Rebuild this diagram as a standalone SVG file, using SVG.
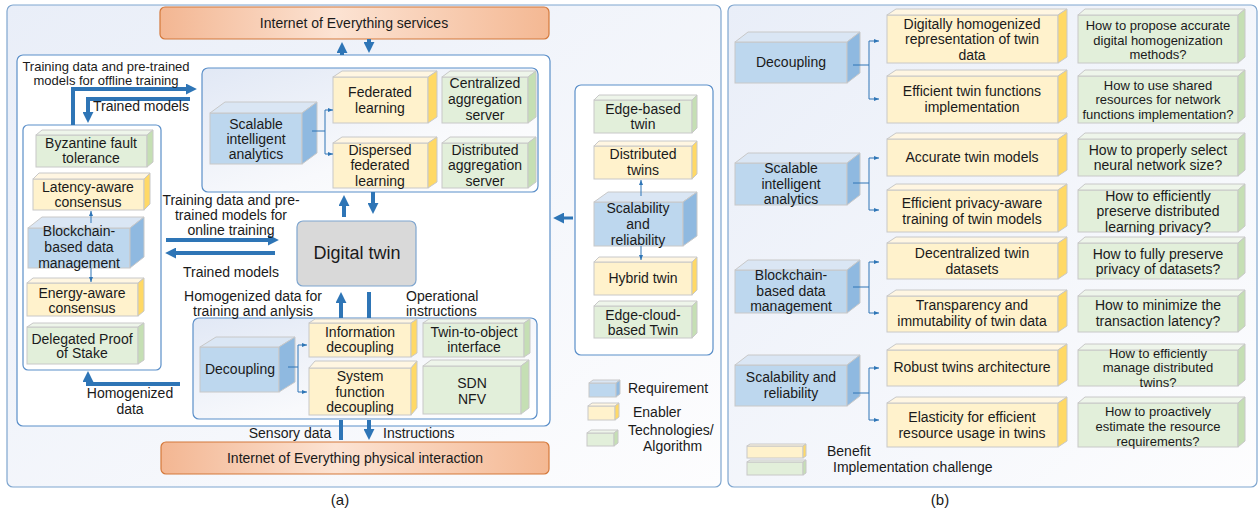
<svg xmlns="http://www.w3.org/2000/svg" width="1260" height="512" viewBox="0 0 1260 512">
<defs>
<style>
text{font-family:"Liberation Sans",Arial,sans-serif;font-size:14px;fill:#1a1a1a;text-anchor:middle}
.s{font-size:13px}
.st{text-anchor:start}
.cb .f{fill:#bdd7ee}.cb .t{fill:#dae6f4}.cb .r{fill:#8fb9e0}
.cy .f{fill:#fff2cc}.cy .t{fill:#fff6e2}.cy .r{fill:#ffd966}
.cg .f{fill:#e2efda}.cg .t{fill:#eef5ea}.cg .r{fill:#c5dfb4}
.f,.t,.r{stroke:#c8c8c8;stroke-width:1}
.pan{stroke:#7fa6cf;stroke-width:1.2}
.con{stroke:#5b8fc9;stroke-width:1.2}
.org{fill:url(#og);stroke:#d4783a;stroke-width:1.2}
.ta{fill:none;stroke:#2e75b6;stroke-width:4}
.th{fill:none;stroke:#2e75b6;stroke-width:1}
</style>
<linearGradient id="pg" x1="0" y1="0" x2="1" y2="1"><stop offset="0" stop-color="#e9eef8"/><stop offset="1" stop-color="#fdfdfe"/></linearGradient>
<linearGradient id="cgr" x1="0" y1="0" x2="1" y2="1"><stop offset="0" stop-color="#e1e8f5"/><stop offset="0.6" stop-color="#f8f9fc"/><stop offset="1" stop-color="#ffffff"/></linearGradient>
<linearGradient id="og" x1="0" y1="0" x2="1" y2="0"><stop offset="0" stop-color="#f3b692"/><stop offset="0.45" stop-color="#fce3d3"/><stop offset="1" stop-color="#f4b893"/></linearGradient>
<marker id="ah" viewBox="0 0 10 10" refX="1" refY="5" markerWidth="11" markerHeight="11" markerUnits="userSpaceOnUse" orient="auto"><path d="M0,0 L10,5 L0,10 Z" fill="#2e75b6"/></marker>
<marker id="sa" viewBox="0 0 10 8" refX="10" refY="4" markerWidth="5" markerHeight="4" markerUnits="userSpaceOnUse" orient="auto"><path d="M0,0 L10,4 L0,8 Z" fill="#2e75b6"/></marker>
</defs>
<rect width="1260" height="512" fill="#ffffff"/>

<!-- containers -->
<g id="panel-a"><rect class="pan" x="7" y="5" width="714" height="482" rx="6" fill="url(#pg)"/></g>
<g id="panel-b"><rect class="pan" x="728" y="5" width="529" height="482" rx="6" fill="url(#pg)"/></g>
<g id="inner-a"><rect class="con" x="17" y="55" width="533" height="371" rx="6" fill="#ffffff"/></g>
<g id="blockchain-container"><rect class="con" x="23" y="125" width="138" height="245" rx="5" fill="#ffffff"/></g>
<g id="sia-container"><rect class="con" x="202" y="68" width="336" height="124" rx="6" fill="url(#cgr)"/></g>
<g id="decoupling-container"><rect class="con" x="193" y="318" width="344" height="101" rx="6" fill="url(#cgr)"/></g>
<g id="scalability-container"><rect class="con" x="575" y="85" width="138" height="270" rx="6" fill="#ffffff"/></g>

<g id="ioe-services"><rect class="org" x="160" y="7" width="389" height="32" rx="5"/><text x="354" y="28">Internet of Everything services</text></g>
<g id="ioe-physical"><rect class="org" x="161" y="442" width="388" height="32" rx="5"/><text x="355" y="463">Internet of Everything physical interaction</text></g>

<g id="digital-twin"><rect x="297" y="221" width="119" height="65" rx="6" fill="#d9d9d9" stroke="#7fa6cf" stroke-width="1.2"/><text x="357" y="259" style="font-size:18px">Digital twin</text></g>

<!-- panel a nodes -->
<g id="sia-a" class="cb"><rect class="f" x="210" y="113" width="92" height="51"/><path class="t" d="M210,113 L225,102 L317,102 L302,113 Z"/><path class="r" d="M302,113 L317,102 L317,153 L302,164 Z"/><text x="256" y="129">Scalable</text><text x="256" y="144">intelligent</text><text x="256" y="159">analytics</text></g>
<g id="federated" class="cy"><rect class="f" x="333" y="77" width="95" height="46"/><path class="t" d="M333,77 L342,71 L437,71 L428,77 Z"/><path class="r" d="M428,77 L437,71 L437,117 L428,123 Z"/><text x="380" y="97">Federated</text><text x="380" y="113">learning</text></g>
<g id="dispersed" class="cy"><rect class="f" x="333" y="143" width="95" height="45"/><path class="t" d="M333,143 L342,137 L437,137 L428,143 Z"/><path class="r" d="M428,143 L437,137 L437,182 L428,188 Z"/><text x="380" y="155">Dispersed</text><text x="380" y="170">federated</text><text x="380" y="186">learning</text></g>
<g id="centralized" class="cg"><rect class="f" x="442" y="77" width="86" height="46"/><path class="t" d="M442,77 L450,71 L536,71 L528,77 Z"/><path class="r" d="M528,77 L536,71 L536,117 L528,123 Z"/><text x="485" y="88">Centralized</text><text x="485" y="104">aggregation</text><text x="485" y="120">server</text></g>
<g id="distributed-agg" class="cg"><rect class="f" x="442" y="143" width="86" height="45"/><path class="t" d="M442,143 L450,137 L536,137 L528,143 Z"/><path class="r" d="M528,143 L536,137 L536,182 L528,188 Z"/><text x="485" y="155">Distributed</text><text x="485" y="170">aggregation</text><text x="485" y="186">server</text></g>

<g id="byzantine" class="cg"><rect class="f" x="36" y="135" width="111" height="32"/><path class="t" d="M36,135 L42,130 L153,130 L147,135 Z"/><path class="r" d="M147,135 L153,130 L153,162 L147,167 Z"/><text x="91" y="148">Byzantine fault</text><text x="91" y="163">tolerance</text></g>
<g id="latency" class="cy"><rect class="f" x="33" y="179" width="111" height="31"/><path class="t" d="M33,179 L39,173 L150,173 L144,179 Z"/><path class="r" d="M144,179 L150,173 L150,204 L144,210 Z"/><text x="88" y="192">Latency-aware</text><text x="88" y="207">consensus</text></g>
<g id="blockchain-a" class="cb"><rect class="f" x="28" y="228" width="102" height="40"/><path class="t" d="M28,228 L42,217 L144,217 L130,228 Z"/><path class="r" d="M130,228 L144,217 L144,257 L130,268 Z"/><text x="79" y="236">Blockchain-</text><text x="79" y="252">based data</text><text x="79" y="268">management</text></g>
<g id="energy" class="cy"><rect class="f" x="27" y="283" width="111" height="33"/><path class="t" d="M27,283 L33,278 L144,278 L138,283 Z"/><path class="r" d="M138,283 L144,278 L144,311 L138,316 Z"/><text x="82" y="298">Energy-aware</text><text x="82" y="313">consensus</text></g>
<g id="delegated" class="cg"><rect class="f" x="27" y="327" width="111" height="37"/><path class="t" d="M27,327 L33,323 L144,323 L138,327 Z"/><path class="r" d="M138,327 L144,323 L144,360 L138,364 Z"/><text x="82" y="344">Delegated Proof</text><text x="82" y="358">of Stake</text></g>

<g id="decoupling-a" class="cb"><rect class="f" x="200" y="347" width="79" height="45"/><path class="t" d="M200,347 L216,337 L295,337 L279,347 Z"/><path class="r" d="M279,347 L295,337 L295,382 L279,392 Z"/><text x="240" y="374">Decoupling</text></g>
<g id="information" class="cy"><rect class="f" x="309" y="323" width="102" height="34"/><path class="t" d="M309,323 L315,319 L417,319 L411,323 Z"/><path class="r" d="M411,323 L417,319 L417,353 L411,357 Z"/><text x="360" y="337">Information</text><text x="360" y="352">decoupling</text></g>
<g id="system-function" class="cy"><rect class="f" x="309" y="368" width="102" height="47"/><path class="t" d="M309,368 L315,361 L417,361 L411,368 Z"/><path class="r" d="M411,368 L417,361 L417,408 L411,415 Z"/><text x="360" y="381">System</text><text x="360" y="397">function</text><text x="360" y="412">decoupling</text></g>
<g id="twin-to-object" class="cg"><rect class="f" x="423" y="323" width="101" height="34"/><path class="t" d="M423,323 L429,319 L530,319 L524,323 Z"/><path class="r" d="M524,323 L530,319 L530,353 L524,357 Z"/><text x="474" y="337">Twin-to-object</text><text x="474" y="352">interface</text></g>
<g id="sdn-nfv" class="cg"><rect class="f" x="423" y="366" width="98" height="48"/><path class="t" d="M423,366 L431,360 L529,360 L521,366 Z"/><path class="r" d="M521,366 L529,360 L529,408 L521,414 Z"/><text x="472" y="388">SDN</text><text x="472" y="404">NFV</text></g>

<g id="edge-based" class="cg"><rect class="f" x="594" y="100" width="98" height="33"/><path class="t" d="M594,100 L599,95 L697,95 L692,100 Z"/><path class="r" d="M692,100 L697,95 L697,128 L692,133 Z"/><text x="643" y="114">Edge-based</text><text x="643" y="129">twin</text></g>
<g id="distributed-twins" class="cy"><rect class="f" x="594" y="146" width="98" height="33"/><path class="t" d="M594,146 L599,141 L697,141 L692,146 Z"/><path class="r" d="M692,146 L697,141 L697,174 L692,179 Z"/><text x="643" y="159">Distributed</text><text x="643" y="175">twins</text></g>
<g id="scalability-a" class="cb"><rect class="f" x="594" y="202" width="89" height="44"/><path class="t" d="M594,202 L608,192 L697,192 L683,202 Z"/><path class="r" d="M683,202 L697,192 L697,236 L683,246 Z"/><text x="638" y="213">Scalability</text><text x="638" y="229">and</text><text x="638" y="245">reliability</text></g>
<g id="hybrid" class="cy"><rect class="f" x="594" y="262" width="98" height="33"/><path class="t" d="M594,262 L599,257 L697,257 L692,262 Z"/><path class="r" d="M692,262 L697,257 L697,290 L692,295 Z"/><text x="643" y="283">Hybrid twin</text></g>
<g id="edge-cloud" class="cg"><rect class="f" x="594" y="306" width="98" height="32"/><path class="t" d="M594,306 L599,301 L697,301 L692,306 Z"/><path class="r" d="M692,306 L697,301 L697,333 L692,338 Z"/><text x="643" y="320">Edge-cloud-</text><text x="643" y="335">based Twin</text></g>

<g id="legend-a">
<g class="cb"><rect class="f" x="589" y="383" width="27" height="14"/><path class="t" d="M589,383 L593,380 L620,380 L616,383 Z"/><path class="r" d="M616,383 L620,380 L620,394 L616,397 Z"/></g>
<g class="cy"><rect class="f" x="588" y="406" width="27" height="14"/><path class="t" d="M588,406 L592,403 L619,403 L615,406 Z"/><path class="r" d="M615,406 L619,403 L619,417 L615,420 Z"/></g>
<g class="cg"><rect class="f" x="587" y="433" width="27" height="13"/><path class="t" d="M587,433 L591,430 L618,430 L614,433 Z"/><path class="r" d="M614,433 L618,430 L618,443 L614,446 Z"/></g>
<text class="st" x="628" y="393">Requirement</text>
<text class="st" x="633" y="417">Enabler</text>
<text class="st" x="628" y="435">Technologies/</text>
<text class="st" x="643" y="451">Algorithm</text>
</g>

<!-- panel b nodes -->
<g id="decoupling-b" class="cb"><rect class="f" x="735" y="42" width="112" height="41"/><path class="t" d="M735,42 L748,32 L860,32 L847,42 Z"/><path class="r" d="M847,42 L860,32 L860,73 L847,83 Z"/><text x="791" y="67">Decoupling</text></g>
<g id="sia-b" class="cb"><rect class="f" x="735" y="163" width="112" height="42"/><path class="t" d="M735,163 L748,153 L860,153 L847,163 Z"/><path class="r" d="M847,163 L860,153 L860,195 L847,205 Z"/><text x="791" y="173">Scalable</text><text x="791" y="189">intelligent</text><text x="791" y="204">analytics</text></g>
<g id="blockchain-b" class="cb"><rect class="f" x="735" y="270" width="112" height="43"/><path class="t" d="M735,270 L748,260 L860,260 L847,270 Z"/><path class="r" d="M847,270 L860,260 L860,303 L847,313 Z"/><text x="791" y="280">Blockchain-</text><text x="791" y="296">based data</text><text x="791" y="311">management</text></g>
<g id="scalability-b" class="cb"><rect class="f" x="735" y="365" width="112" height="41"/><path class="t" d="M735,365 L748,355 L860,355 L847,365 Z"/><path class="r" d="M847,365 L860,355 L860,396 L847,406 Z"/><text x="791" y="382">Scalability and</text><text x="791" y="398">reliability</text></g>

<g id="benefit-1" class="cy"><rect class="f" x="887" y="15" width="171" height="48"/><path class="t" d="M887,15 L896,9 L1067,9 L1058,15 Z"/><path class="r" d="M1058,15 L1067,9 L1067,57 L1058,63 Z"/><text x="972" y="29">Digitally homogenized</text><text x="972" y="44">representation of twin</text><text x="972" y="60">data</text></g>
<g id="benefit-2" class="cy"><rect class="f" x="887" y="76" width="171" height="47"/><path class="t" d="M887,76 L896,70 L1067,70 L1058,76 Z"/><path class="r" d="M1058,76 L1067,70 L1067,117 L1058,123 Z"/><text x="972" y="96">Efficient twin functions</text><text x="972" y="112">implementation</text></g>
<g id="benefit-3" class="cy"><rect class="f" x="887" y="139" width="171" height="37"/><path class="t" d="M887,139 L896,133 L1067,133 L1058,139 Z"/><path class="r" d="M1058,139 L1067,133 L1067,170 L1058,176 Z"/><text x="972" y="162">Accurate twin models</text></g>
<g id="benefit-4" class="cy"><rect class="f" x="887" y="190" width="171" height="42"/><path class="t" d="M887,190 L896,184 L1067,184 L1058,190 Z"/><path class="r" d="M1058,190 L1067,184 L1067,226 L1058,232 Z"/><text x="972" y="208">Efficient privacy-aware</text><text x="972" y="224">training of twin models</text></g>
<g id="benefit-5" class="cy"><rect class="f" x="887" y="243" width="171" height="36"/><path class="t" d="M887,243 L896,237 L1067,237 L1058,243 Z"/><path class="r" d="M1058,243 L1067,237 L1067,273 L1058,279 Z"/><text x="972" y="258">Decentralized twin</text><text x="972" y="274">datasets</text></g>
<g id="benefit-6" class="cy"><rect class="f" x="887" y="296" width="171" height="36"/><path class="t" d="M887,296 L896,290 L1067,290 L1058,296 Z"/><path class="r" d="M1058,296 L1067,290 L1067,326 L1058,332 Z"/><text x="972" y="310">Transparency and</text><text x="972" y="326">immutability of twin data</text></g>
<g id="benefit-7" class="cy"><rect class="f" x="887" y="350" width="171" height="36"/><path class="t" d="M887,350 L896,344 L1067,344 L1058,350 Z"/><path class="r" d="M1058,350 L1067,344 L1067,380 L1058,386 Z"/><text x="972" y="372">Robust twins architecture</text></g>
<g id="benefit-8" class="cy"><rect class="f" x="887" y="403" width="171" height="44"/><path class="t" d="M887,403 L896,397 L1067,397 L1058,403 Z"/><path class="r" d="M1058,403 L1067,397 L1067,441 L1058,447 Z"/><text x="972" y="422">Elasticity for efficient</text><text x="972" y="438">resource usage in twins</text></g>

<g id="challenge-1" class="cg"><rect class="f" x="1078" y="15" width="160" height="48"/><path class="t" d="M1078,15 L1085,9 L1245,9 L1238,15 Z"/><path class="r" d="M1238,15 L1245,9 L1245,57 L1238,63 Z"/><text class="s" x="1158" y="30">How to propose accurate</text><text class="s" x="1158" y="45">digital homogenization</text><text class="s" x="1158" y="59">methods?</text></g>
<g id="challenge-2" class="cg"><rect class="f" x="1078" y="76" width="160" height="47"/><path class="t" d="M1078,76 L1085,70 L1245,70 L1238,76 Z"/><path class="r" d="M1238,76 L1245,70 L1245,117 L1238,123 Z"/><text class="s" x="1158" y="90">How to use shared</text><text class="s" x="1158" y="104">resources for network</text><text class="s" x="1158" y="119">functions implementation?</text></g>
<g id="challenge-3" class="cg"><rect class="f" x="1078" y="139" width="160" height="37"/><path class="t" d="M1078,139 L1085,133 L1245,133 L1238,139 Z"/><path class="r" d="M1238,139 L1245,133 L1245,170 L1238,176 Z"/><text x="1158" y="155">How to properly select</text><text x="1158" y="170">neural network size?</text></g>
<g id="challenge-4" class="cg"><rect class="f" x="1078" y="190" width="160" height="42"/><path class="t" d="M1078,190 L1085,184 L1245,184 L1238,190 Z"/><path class="r" d="M1238,190 L1245,184 L1245,226 L1238,232 Z"/><text x="1158" y="201">How to efficiently</text><text x="1158" y="216">preserve distributed</text><text x="1158" y="232">learning privacy?</text></g>
<g id="challenge-5" class="cg"><rect class="f" x="1078" y="243" width="160" height="36"/><path class="t" d="M1078,243 L1085,237 L1245,237 L1238,243 Z"/><path class="r" d="M1238,243 L1245,237 L1245,273 L1238,279 Z"/><text x="1158" y="259">How to fully preserve</text><text x="1158" y="274">privacy of datasets?</text></g>
<g id="challenge-6" class="cg"><rect class="f" x="1078" y="296" width="160" height="36"/><path class="t" d="M1078,296 L1085,290 L1245,290 L1238,296 Z"/><path class="r" d="M1238,296 L1245,290 L1245,326 L1238,332 Z"/><text x="1158" y="310">How to minimize the</text><text x="1158" y="326">transaction latency?</text></g>
<g id="challenge-7" class="cg"><rect class="f" x="1078" y="350" width="160" height="36"/><path class="t" d="M1078,350 L1085,344 L1245,344 L1238,350 Z"/><path class="r" d="M1238,350 L1245,344 L1245,380 L1238,386 Z"/><text class="s" x="1158" y="358">How to efficiently</text><text class="s" x="1158" y="372">manage distributed</text><text class="s" x="1158" y="387">twins?</text></g>
<g id="challenge-8" class="cg"><rect class="f" x="1078" y="403" width="160" height="44"/><path class="t" d="M1078,403 L1085,397 L1245,397 L1238,403 Z"/><path class="r" d="M1238,403 L1245,397 L1245,441 L1238,447 Z"/><text class="s" x="1158" y="416">How to proactively</text><text class="s" x="1158" y="431">estimate the resource</text><text class="s" x="1158" y="446">requirements?</text></g>

<g id="legend-b">
<g class="cy"><rect class="f" x="747" y="446" width="56" height="12"/><path class="t" d="M747,446 L750,444 L806,444 L803,446 Z"/><path class="r" d="M803,446 L806,444 L806,456 L803,458 Z"/></g>
<g class="cg"><rect class="f" x="747" y="462" width="56" height="13"/><path class="t" d="M747,462 L750,460 L806,460 L803,462 Z"/><path class="r" d="M803,462 L806,460 L806,473 L803,475 Z"/></g>
<text class="st" x="827" y="456">Benefit</text>
<text class="st" x="833" y="472">Implementation challenge</text>
</g>

<!-- connectors -->
<g id="connectors">
<path class="ta" d="M342,55 V52" marker-end="url(#ah)"/>
<path class="ta" d="M369,39 V43" marker-end="url(#ah)"/>
<path class="ta" d="M344,217 V205" marker-end="url(#ah)"/>
<path class="ta" d="M373,192 V204" marker-end="url(#ah)"/>
<path class="ta" d="M341,318 V302" marker-end="url(#ah)"/>
<path class="ta" d="M369,292 V318"/>
<path class="ta" d="M341,440 V420"/>
<path class="ta" d="M369,420 V430" marker-end="url(#ah)"/>
<path class="ta" d="M73,125 V89 H187" marker-end="url(#ah)"/>
<path class="ta" d="M190,99 H88 V113" marker-end="url(#ah)"/>
<path class="ta" d="M166,240 H269" marker-end="url(#ah)"/>
<path class="ta" d="M275,253 H175" marker-end="url(#ah)"/>
<path class="ta" d="M180,384 H88 V381" marker-end="url(#ah)"/>
<path class="ta" d="M573,218 H563" marker-end="url(#ah)" style="stroke-width:3"/>

<path class="th" d="M312,131 H325"/>
<path class="th" d="M325,131 V110 H333" marker-end="url(#sa)"/>
<path class="th" d="M325,131 V154 H333" marker-end="url(#sa)"/>
<path class="th" d="M288,367 H298"/>
<path class="th" d="M298,367 V345 H307" marker-end="url(#sa)"/>
<path class="th" d="M298,367 V392 H307" marker-end="url(#sa)"/>
<path class="th" d="M91,223 V211" marker-end="url(#sa)"/>
<path class="th" d="M91,268 V282" marker-end="url(#sa)"/>
<path class="th" d="M641,196 V180" marker-end="url(#sa)"/>
<path class="th" d="M641,246 V260" marker-end="url(#sa)"/>

<path class="th" d="M853,65 H869"/>
<path class="th" d="M869,65 V41 H879" marker-end="url(#sa)"/>
<path class="th" d="M869,65 V99 H879" marker-end="url(#sa)"/>
<path class="th" d="M853,183 H869"/>
<path class="th" d="M869,183 V158 H879" marker-end="url(#sa)"/>
<path class="th" d="M869,183 V210 H879" marker-end="url(#sa)"/>
<path class="th" d="M853,287 H869"/>
<path class="th" d="M869,287 V262 H879" marker-end="url(#sa)"/>
<path class="th" d="M869,287 V313 H879" marker-end="url(#sa)"/>
<path class="th" d="M853,393 H869"/>
<path class="th" d="M869,393 V368 H879" marker-end="url(#sa)"/>
<path class="th" d="M869,393 V420 H879" marker-end="url(#sa)"/>
</g>

<!-- free labels -->
<g id="labels">
<text x="106" y="71" style="font-size:13px">Training data and pre-trained</text>
<text x="106" y="85" style="font-size:13px">models for offline training</text>
<text class="st" x="93" y="111">Trained models</text>
<text x="231" y="205">Training data and pre-</text>
<text x="231" y="220">trained models for</text>
<text x="231" y="235">online training</text>
<text x="231" y="277">Trained models</text>
<text x="253" y="301">Homogenized data for</text>
<text x="253" y="316">training and anlysis</text>
<text class="st" x="406" y="301">Operational</text>
<text class="st" x="406" y="316">instructions</text>
<text x="130" y="398">Homogenized</text>
<text x="130" y="414">data</text>
<text x="290" y="438">Sensory data</text>
<text class="st" x="383" y="438">Instructions</text>
<text x="340" y="505" style="font-size:15px">(a)</text>
<text x="940" y="505" style="font-size:15px">(b)</text>
</g>
</svg>
